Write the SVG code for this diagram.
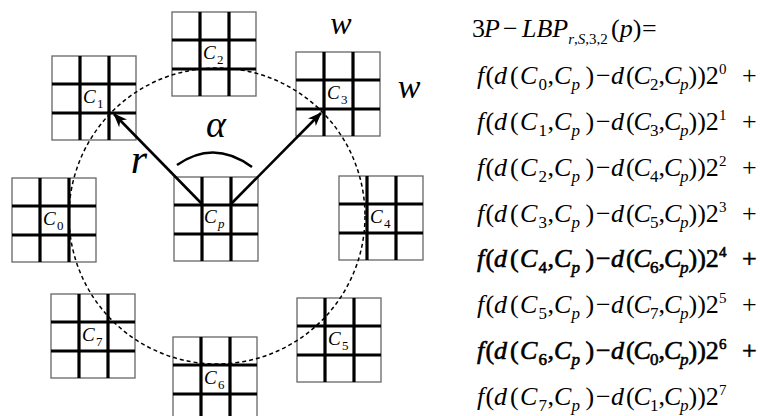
<svg xmlns="http://www.w3.org/2000/svg" xmlns:xlink="http://www.w3.org/1999/xlink" width="767" height="416" viewBox="0 0 767 416">
<style>
.i{font-style:italic}
.m{font-size:26px}
.s{font-size:17px}
.s1{font-size:15px}
.u{font-size:15px}
.lb{font-size:19px;font-style:italic}
.ls{font-size:13px;font-style:normal}
.bd{stroke:#000;stroke-width:0.6}
.cell{fill:#fff;stroke:#666;stroke-width:1.3}
.inner{stroke:#000;stroke-width:3.2;fill:none}
.arr{stroke:#000;stroke-width:2.6;fill:none;marker-end:url(#ah)}
</style>
<defs>
<g id="grid">
<rect class="cell" x="0" y="0" width="84" height="84"/>
<path class="inner" d="M28,0V84M57,0V84M0,28H84M0,57H84"/>
</g>
<marker id="ah" viewBox="-14 -6 15 12" refX="0" refY="0" markerWidth="15" markerHeight="12" markerUnits="userSpaceOnUse" orient="auto">
<path d="M1,0 L-13,-5.5 L-9,0 L-13,5.5 z" fill="#000"/>
</marker>
</defs>

<g id="c0" transform="translate(12,178)"><use xlink:href="#grid"/><text font-family="Liberation Serif" class="lb" x="31" y="47">C<tspan class="ls" x="45" y="52">0</tspan></text></g>
<g id="c1" transform="translate(52,56)"><use xlink:href="#grid"/><text font-family="Liberation Serif" class="lb" x="31" y="47">C<tspan class="ls" x="45" y="52">1</tspan></text></g>
<g id="c2" transform="translate(172,12)"><use xlink:href="#grid"/><text font-family="Liberation Serif" class="lb" x="31" y="47">C<tspan class="ls" x="45" y="52">2</tspan></text></g>
<g id="c3" transform="translate(296,52)"><use xlink:href="#grid"/><text font-family="Liberation Serif" class="lb" x="31" y="47">C<tspan class="ls" x="45" y="52">3</tspan></text></g>
<g id="c4" transform="translate(339,176)"><use xlink:href="#grid"/><text font-family="Liberation Serif" class="lb" x="31" y="47">C<tspan class="ls" x="45" y="52">4</tspan></text></g>
<g id="c5" transform="translate(297,298)"><use xlink:href="#grid"/><text font-family="Liberation Serif" class="lb" x="31" y="47">C<tspan class="ls" x="45" y="52">5</tspan></text></g>
<g id="c6" transform="translate(173,337)"><use xlink:href="#grid"/><text font-family="Liberation Serif" class="lb" x="31" y="47">C<tspan class="ls" x="45" y="52">6</tspan></text></g>
<g id="c7" transform="translate(51,294)"><use xlink:href="#grid"/><text font-family="Liberation Serif" class="lb" x="31" y="47">C<tspan class="ls" x="45" y="52">7</tspan></text></g>
<g id="cp" transform="translate(174,177)"><use xlink:href="#grid"/><text font-family="Liberation Serif" class="lb" x="30" y="46">C<tspan class="ls" x="44" y="51" style="font-style:italic">p</tspan></text></g>

<g id="connectors">
<circle cx="217" cy="216" r="148" fill="none" stroke="#000" stroke-width="1.5" stroke-dasharray="4 3"/>
<line class="arr" x1="202" y1="204" x2="114" y2="114"/>
<line class="arr" x1="231" y1="204" x2="321" y2="113"/>
<path d="M177,165 Q214,139 252,167" fill="none" stroke="#000" stroke-width="2.6"/>
</g>

<g id="labels">
<text font-family="Liberation Serif" class="i" x="341" y="34" font-size="32" text-anchor="middle">w</text>
<text font-family="Liberation Serif" class="i" x="409" y="98" font-size="34" text-anchor="middle">w</text>
<text font-family="Liberation Serif" class="i" x="216" y="137" font-size="38" text-anchor="middle">α</text>
<text font-family="Liberation Serif" class="i" x="139" y="173" font-size="42" text-anchor="middle">r</text>
</g>

<g id="formula" class="m">
<text font-family="Liberation Serif" y="37"><tspan x="472">3</tspan><tspan class="i" x="484">P</tspan><tspan x="503">−</tspan><tspan class="i" x="522">LBP</tspan><tspan class="s1" y="44"><tspan class="i">r</tspan>,<tspan class="i">S</tspan>,3,2</tspan><tspan x="611" y="37">(</tspan><tspan class="i">p</tspan>)<tspan x="642">=</tspan></text>

<text font-family="Liberation Serif" y="84"><tspan class="i" x="477">f</tspan><tspan x="485.5">(</tspan><tspan class="i" x="494">d</tspan><tspan x="510">(</tspan><tspan class="i" x="520">C</tspan><tspan class="s" x="538.5" y="90">0</tspan><tspan x="547.5" y="84">,</tspan><tspan class="i" x="554">C</tspan><tspan class="s i" x="571.5" y="90">p</tspan><tspan x="585.5" y="84">)</tspan><tspan x="596">−</tspan><tspan class="i" x="611">d</tspan><tspan x="626">(</tspan><tspan class="i" x="633.5">C</tspan><tspan class="s" x="650" y="90">2</tspan><tspan x="658.5" y="84">,</tspan><tspan class="i" x="664">C</tspan><tspan class="s i" x="680" y="90">p</tspan><tspan x="688.5" y="84">))2</tspan><tspan class="u" x="719" y="74">0</tspan><tspan x="742" y="84">+</tspan></text>

<text font-family="Liberation Serif" y="130"><tspan class="i" x="477">f</tspan><tspan x="485.5">(</tspan><tspan class="i" x="494">d</tspan><tspan x="510">(</tspan><tspan class="i" x="520">C</tspan><tspan class="s" x="538.5" y="136">1</tspan><tspan x="547.5" y="130">,</tspan><tspan class="i" x="554">C</tspan><tspan class="s i" x="571.5" y="136">p</tspan><tspan x="585.5" y="130">)</tspan><tspan x="596">−</tspan><tspan class="i" x="611">d</tspan><tspan x="626">(</tspan><tspan class="i" x="633.5">C</tspan><tspan class="s" x="650" y="136">3</tspan><tspan x="658.5" y="130">,</tspan><tspan class="i" x="664">C</tspan><tspan class="s i" x="680" y="136">p</tspan><tspan x="688.5" y="130">))2</tspan><tspan class="u" x="719" y="120">1</tspan><tspan x="742" y="130">+</tspan></text>

<text font-family="Liberation Serif" y="176"><tspan class="i" x="477">f</tspan><tspan x="485.5">(</tspan><tspan class="i" x="494">d</tspan><tspan x="510">(</tspan><tspan class="i" x="520">C</tspan><tspan class="s" x="538.5" y="182">2</tspan><tspan x="547.5" y="176">,</tspan><tspan class="i" x="554">C</tspan><tspan class="s i" x="571.5" y="182">p</tspan><tspan x="585.5" y="176">)</tspan><tspan x="596">−</tspan><tspan class="i" x="611">d</tspan><tspan x="626">(</tspan><tspan class="i" x="633.5">C</tspan><tspan class="s" x="650" y="182">4</tspan><tspan x="658.5" y="176">,</tspan><tspan class="i" x="664">C</tspan><tspan class="s i" x="680" y="182">p</tspan><tspan x="688.5" y="176">))2</tspan><tspan class="u" x="719" y="166">2</tspan><tspan x="742" y="176">+</tspan></text>

<text font-family="Liberation Serif" y="222"><tspan class="i" x="477">f</tspan><tspan x="485.5">(</tspan><tspan class="i" x="494">d</tspan><tspan x="510">(</tspan><tspan class="i" x="520">C</tspan><tspan class="s" x="538.5" y="228">3</tspan><tspan x="547.5" y="222">,</tspan><tspan class="i" x="554">C</tspan><tspan class="s i" x="571.5" y="228">p</tspan><tspan x="585.5" y="222">)</tspan><tspan x="596">−</tspan><tspan class="i" x="611">d</tspan><tspan x="626">(</tspan><tspan class="i" x="633.5">C</tspan><tspan class="s" x="650" y="228">5</tspan><tspan x="658.5" y="222">,</tspan><tspan class="i" x="664">C</tspan><tspan class="s i" x="680" y="228">p</tspan><tspan x="688.5" y="222">))2</tspan><tspan class="u" x="719" y="212">3</tspan><tspan x="742" y="222">+</tspan></text>

<text font-family="Liberation Serif" y="267" class="bd"><tspan class="i" x="477">f</tspan><tspan x="485.5">(</tspan><tspan class="i" x="494">d</tspan><tspan x="510">(</tspan><tspan class="i" x="520">C</tspan><tspan class="s" x="538.5" y="273">4</tspan><tspan x="547.5" y="267">,</tspan><tspan class="i" x="554">C</tspan><tspan class="s i" x="571.5" y="273">p</tspan><tspan x="585.5" y="267">)</tspan><tspan x="596">−</tspan><tspan class="i" x="611">d</tspan><tspan x="626">(</tspan><tspan class="i" x="633.5">C</tspan><tspan class="s" x="650" y="273">6</tspan><tspan x="658.5" y="267">,</tspan><tspan class="i" x="664">C</tspan><tspan class="s i" x="680" y="273">p</tspan><tspan x="688.5" y="267">))2</tspan><tspan class="u" x="719" y="257">4</tspan><tspan x="742" y="267">+</tspan></text>

<text font-family="Liberation Serif" y="313"><tspan class="i" x="477">f</tspan><tspan x="485.5">(</tspan><tspan class="i" x="494">d</tspan><tspan x="510">(</tspan><tspan class="i" x="520">C</tspan><tspan class="s" x="538.5" y="319">5</tspan><tspan x="547.5" y="313">,</tspan><tspan class="i" x="554">C</tspan><tspan class="s i" x="571.5" y="319">p</tspan><tspan x="585.5" y="313">)</tspan><tspan x="596">−</tspan><tspan class="i" x="611">d</tspan><tspan x="626">(</tspan><tspan class="i" x="633.5">C</tspan><tspan class="s" x="650" y="319">7</tspan><tspan x="658.5" y="313">,</tspan><tspan class="i" x="664">C</tspan><tspan class="s i" x="680" y="319">p</tspan><tspan x="688.5" y="313">))2</tspan><tspan class="u" x="719" y="303">5</tspan><tspan x="742" y="313">+</tspan></text>

<text font-family="Liberation Serif" y="359" class="bd"><tspan class="i" x="477">f</tspan><tspan x="485.5">(</tspan><tspan class="i" x="494">d</tspan><tspan x="510">(</tspan><tspan class="i" x="520">C</tspan><tspan class="s" x="538.5" y="365">6</tspan><tspan x="547.5" y="359">,</tspan><tspan class="i" x="554">C</tspan><tspan class="s i" x="571.5" y="365">p</tspan><tspan x="585.5" y="359">)</tspan><tspan x="596">−</tspan><tspan class="i" x="611">d</tspan><tspan x="626">(</tspan><tspan class="i" x="633.5">C</tspan><tspan class="s" x="650" y="365">0</tspan><tspan x="658.5" y="359">,</tspan><tspan class="i" x="664">C</tspan><tspan class="s i" x="680" y="365">p</tspan><tspan x="688.5" y="359">))2</tspan><tspan class="u" x="719" y="349">6</tspan><tspan x="742" y="359">+</tspan></text>

<text font-family="Liberation Serif" y="405"><tspan class="i" x="477">f</tspan><tspan x="485.5">(</tspan><tspan class="i" x="494">d</tspan><tspan x="510">(</tspan><tspan class="i" x="520">C</tspan><tspan class="s" x="538.5" y="411">7</tspan><tspan x="547.5" y="405">,</tspan><tspan class="i" x="554">C</tspan><tspan class="s i" x="571.5" y="411">p</tspan><tspan x="585.5" y="405">)</tspan><tspan x="596">−</tspan><tspan class="i" x="611">d</tspan><tspan x="626">(</tspan><tspan class="i" x="633.5">C</tspan><tspan class="s" x="650" y="411">1</tspan><tspan x="658.5" y="405">,</tspan><tspan class="i" x="664">C</tspan><tspan class="s i" x="680" y="411">p</tspan><tspan x="688.5" y="405">))2</tspan><tspan class="u" x="719" y="395">7</tspan></text>
</g>
</svg>
